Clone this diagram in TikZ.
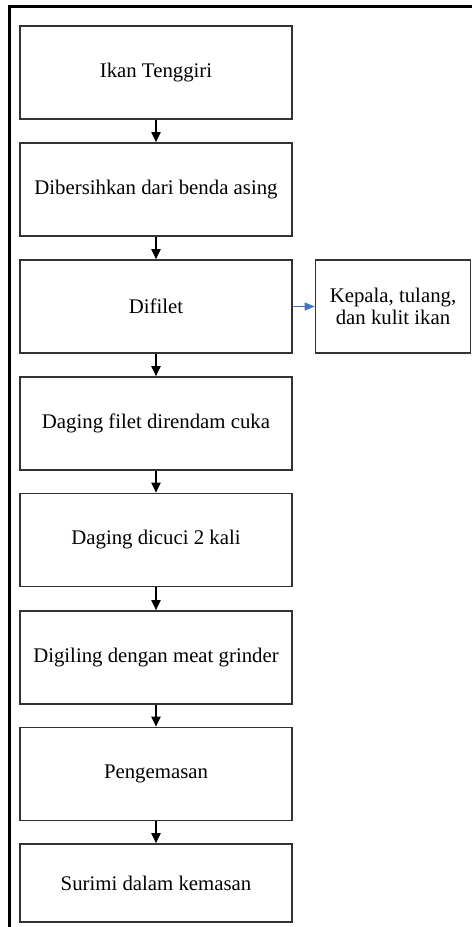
\documentclass[tikz,border=0pt]{standalone}
\usepackage{fontspec}
\setmainfont{Liberation Serif}
\usetikzlibrary{arrows.meta}
\definecolor{arrowblue}{HTML}{4472C4}
\begin{document}
\begin{tikzpicture}[x=1pt,y=-1pt,
	 box/.style={draw=black!80, line width=1.6pt, minimum width=272pt, minimum height=93pt, align=center, inner sep=0pt, font=\fontsize{20.8}{22.5}\selectfont},
	 flow/.style={-{Triangle[width=9pt,length=10pt]}, line width=1.8pt},
	 side/.style={-{Triangle[width=8pt,length=10pt]}, line width=1.2pt, arrowblue}]
	 \useasboundingbox (0,0) rectangle (472,927);
	 \draw[line width=2.4pt] (9.5,927)--(9.5,6.5)--(472,6.5);
	 \node (a) at (156,72.5) [box] {Ikan Tenggiri};
	 \node (b) at (156,189.5) [box] {Dibersihkan dari benda asing};
	 \node (c) at (156,306.5) [box] {Difilet};
	 \node (k) at (393,306.5) [box, minimum width=155pt] {Kepala, tulang,\\dan kulit ikan};
	 \node (d) at (156,423.5) [box] {Daging filet direndam cuka};
	 \node (e) at (156,540) [box] {Daging dicuci 2 kali};
	 \node (f) at (156,657.5) [box] {Digiling dengan meat grinder};
	 \node (g) at (156,774) [box] {Pengemasan};
	 \node (h) at (156,883) [box, minimum height=78pt] {Surimi dalam kemasan};
	 \foreach \p/\q in {a/b,b/c,c/d,d/e,e/f,f/g,g/h}
	 	 \draw[flow] (\p.south)--(\q.north);
	 \draw[side] (c.east)--(k.west);
\end{tikzpicture}
\end{document}
